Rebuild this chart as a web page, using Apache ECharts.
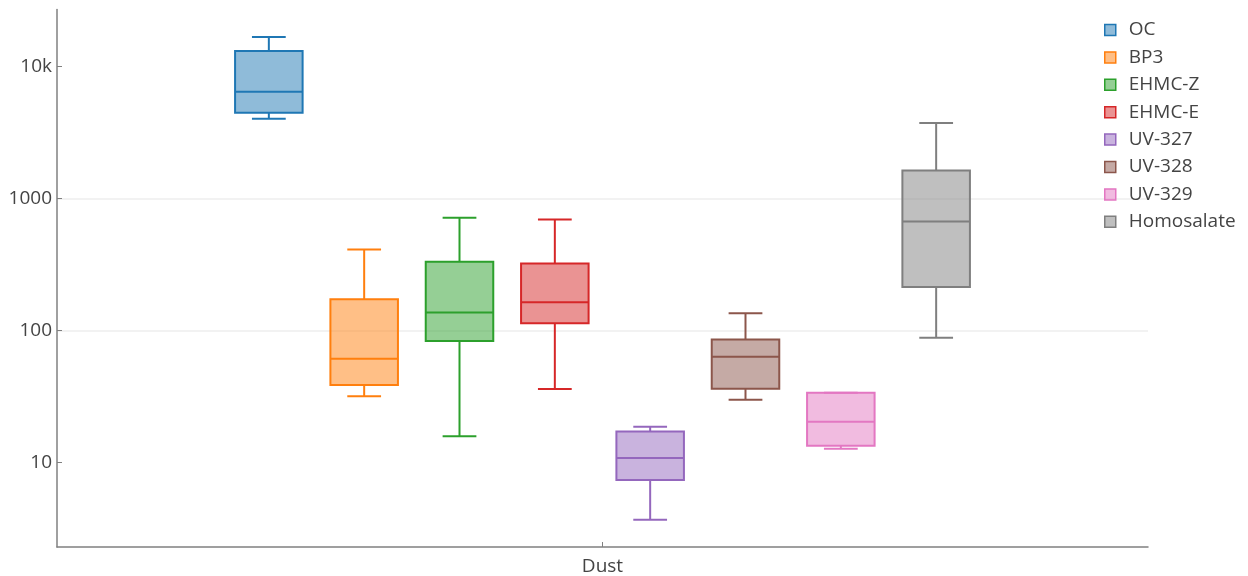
<!DOCTYPE html>
<html>
<head>
<meta charset="utf-8">
<script src="https://cdn.jsdelivr.net/npm/echarts@6/dist/echarts.min.js"></script>
<style>
  html, body { margin: 0; padding: 0; background: #fff; }
  #chart { width: 1248px; height: 576px; }
</style>
</head>
<body>
<div id="chart"></div>
<script>
// ---- data ----
const categories = ['Dust'];
const seriesNames = ['OC', 'BP3', 'EHMC-Z', 'EHMC-E', 'UV-327', 'UV-328', 'UV-329', 'Homosalate'];
const minVals    = [4030, 31.8, 15.8, 36.1, 3.69, 29.9, 12.7, 88.1];
const q1Vals     = [4475, 38.7, 83.2, 113.7, 7.36, 36.3, 13.4, 214];
const medianVals = [6450, 61.1, 137, 164, 10.8, 63.3, 20.4, 671];
const q3Vals     = [13160, 172.8, 333, 323, 17.2, 85.7, 33.8, 1631];
const maxVals    = [16800, 412, 716, 695, 18.7, 135, 33.8, 3740];
const yTickValues = [10, 100, 1000, 10000];
const yTickLabels = ['10', '100', '1000', '10k'];

// ---- styles ----
const COLORS = ['#1f77b4', '#ff7f0e', '#2ca02c', '#d62728', '#9467bd', '#8c564b', '#e377c2', '#7f7f7f'];
function fillOf(hex) {
  const r = parseInt(hex.slice(1, 3), 16), g = parseInt(hex.slice(3, 5), 16), b = parseInt(hex.slice(5, 7), 16);
  return 'rgba(' + r + ',' + g + ',' + b + ',0.5)';
}
const FONT = '"Open Sans", "Noto Sans", sans-serif';
const SPACING = 0.08738;  // fraction of category band between neighbouring boxes
const BOXW = 0.0619;      // box width as fraction of band
const N = seriesNames.length;

function renderItem(params, api) {
  const idx = params.seriesIndex;
  const band = api.size([1, 0])[0];
  const cat = api.value(0);
  const base = api.coord([cat, api.value(3)]);
  const cx = base[0] + (idx - (N - 1) / 2) * SPACING * band;
  const hw = BOXW * band / 2;
  const cw = hw / 2;
  const y = k => api.coord([cat, api.value(k)])[1];
  const yMin = y(1), yQ1 = y(2), yMed = y(3), yQ3 = y(4), yMax = y(5);
  const color = COLORS[idx];
  const ls = { stroke: color, lineWidth: 2, fill: null };
  const children = [
    { type: 'line', shape: { x1: cx, y1: yQ3, x2: cx, y2: yMax }, style: ls },
    { type: 'line', shape: { x1: cx, y1: yQ1, x2: cx, y2: yMin }, style: ls },
    { type: 'line', shape: { x1: cx - cw, y1: yMax, x2: cx + cw, y2: yMax }, style: ls },
    { type: 'line', shape: { x1: cx - cw, y1: yMin, x2: cx + cw, y2: yMin }, style: ls },
    { type: 'rect', shape: { x: cx - hw, y: yQ3, width: 2 * hw, height: yQ1 - yQ3 },
      style: { fill: fillOf(color), stroke: color, lineWidth: 2 } },
    { type: 'line', shape: { x1: cx - hw, y1: yMed, x2: cx + hw, y2: yMed }, style: ls }
  ];
  return { type: 'group', children: children };
}

const series = seriesNames.map((name, i) => ({
  name: name,
  type: 'custom',
  renderItem: renderItem,
  encode: { x: 0, y: [1, 2, 3, 4, 5] },
  itemStyle: { color: fillOf(COLORS[i]), borderColor: COLORS[i], borderWidth: 2 },
  data: [[0, minVals[i], q1Vals[i], medianVals[i], q3Vals[i], maxVals[i]]]
}));

const chart = echarts.init(document.getElementById('chart'), null, { renderer: 'canvas' });
chart.setOption({
  animation: false,
  textStyle: { fontFamily: FONT },
  grid: { left: 57, right: 100, top: 9.5, bottom: 28, containLabel: false },
  legend: {
    orient: 'vertical',
    left: 1104,
    top: 20.5,
    itemWidth: 11,
    itemHeight: 11,
    itemGap: 8.4,
    padding: 0,
    icon: 'rect',
    textStyle: { fontSize: 19, color: '#444', fontFamily: FONT, padding: [0, 0, 0, 8] },
    data: seriesNames.map((n, i) => ({
      name: n,
      itemStyle: { color: fillOf(COLORS[i]), borderColor: COLORS[i], borderWidth: 1.5 }
    }))
  },
  xAxis: {
    type: 'category',
    data: categories,
    axisLine: { lineStyle: { color: '#808080', width: 1.5 } },
    axisTick: { show: true, inside: true, length: 5, alignWithLabel: true, lineStyle: { color: '#808080' } },
    axisLabel: { fontSize: 19, color: '#444', margin: 10, fontFamily: FONT },
    splitLine: { show: false }
  },
  yAxis: {
    type: 'log',
    logBase: 10,
    min: 2.29,
    max: 27110,
    axisLine: { show: true, lineStyle: { color: '#808080', width: 1.5 } },
    axisTick: { show: true, inside: true, length: 5, customValues: yTickValues, lineStyle: { color: '#808080' } },
    axisLabel: {
      fontSize: 19, color: '#444', margin: 5, fontFamily: FONT,
      customValues: yTickValues,
      formatter: function (v) {
        for (let i = 0; i < yTickValues.length; i++) {
          if (Math.abs(v - yTickValues[i]) / yTickValues[i] < 1e-6) return yTickLabels[i];
        }
        return '';
      }
    },
    splitLine: { show: true, showMinLine: false, showMaxLine: false, lineStyle: { color: '#eeeeee', width: 1.5 } }
  },
  series: series
});
</script>
</body>
</html>
